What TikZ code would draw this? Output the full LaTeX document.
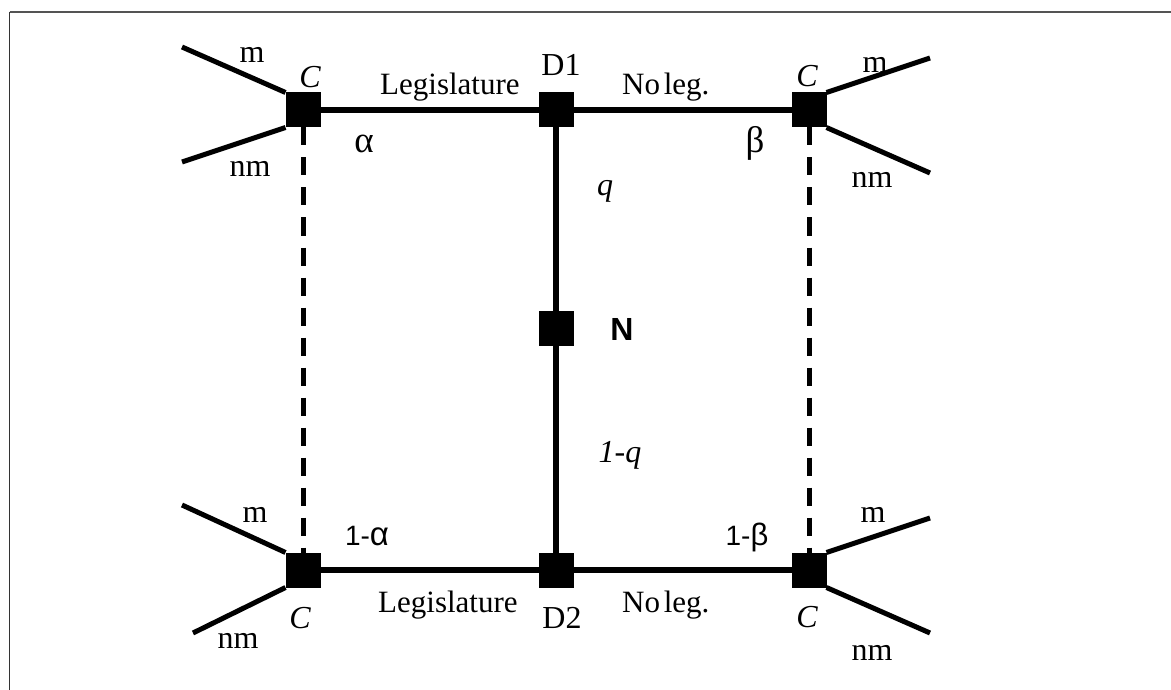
\documentclass[tikz,border=0pt]{standalone}
\usepackage{fontspec}
\setmainfont{Liberation Serif}
\setsansfont{Liberation Sans}
\begin{document}
\begin{tikzpicture}[x=1pt,y=-1pt,
  sq/.style={draw=none,fill=black,minimum size=35pt,inner sep=0pt,outer sep=0pt},
  edge/.style={line width=5.5pt},
  branch/.style={line width=5pt},
  dashedge/.style={line width=5pt,dash pattern=on 18pt off 12pt},
  lbl/.style={inner sep=0pt,anchor=base,font=\fontsize{32}{32}\selectfont},
  lblw/.style={lbl,anchor=base west,font=\fontsize{31}{31}\selectfont},
  greek/.style={lbl,font=\fontsize{37}{37}\selectfont},
  slbl/.style={inner sep=0pt,anchor=base,font=\sffamily\fontsize{28}{28}\selectfont},
  frameline/.style={draw=black!67}]
\useasboundingbox (0,0) rectangle (1171,690);
% frame
\draw[frameline,line width=2pt] (9.5,12) -- (1171,12);
\draw[frameline,line width=1.2pt,draw=black!80] (9.5,12) -- (9.5,690);
% nodes
\node[sq] (cTL) at (303,110) {};
\node[sq] (d1) at (556,110) {};
\node[sq] (cTR) at (809,110) {};
\node[sq] (n) at (556,328) {};
\node[sq] (cBL) at (303,570) {};
\node[sq] (d2) at (556,570) {};
\node[sq] (cBR) at (809,570) {};
% free ends
\coordinate (eTLm) at (182,47);
\coordinate (eTLn) at (182,162);
\coordinate (eTRm) at (930,58);
\coordinate (eTRn) at (930,173);
\coordinate (eBLm) at (182,505);
\coordinate (eBLn) at (193,633);
\coordinate (eBRm) at (930,518);
\coordinate (eBRn) at (930,633);
% connectors
\draw[edge] (cTL) -- (d1);
\draw[edge] (d1) -- (cTR);
\draw[edge] (cBL) -- (d2);
\draw[edge] (d2) -- (cBR);
\draw[edge] (d1) -- (n);
\draw[edge] (n) -- (d2);
\draw[dashedge] (cTL.south) -- (cBL.north);
\draw[dashedge] (cTR.south) -- (cBR.north);
\draw[branch] (cTL.north west) -- (eTLm);
\draw[branch] (cTL.south west) -- (eTLn);
\draw[branch] (cTR.north east) -- (eTRm);
\draw[branch] (cTR.south east) -- (eTRn);
\draw[branch] (cBL.north west) -- (eBLm);
\draw[branch] (cBL.south west) -- (eBLn);
\draw[branch] (cBR.north east) -- (eBRm);
\draw[branch] (cBR.south east) -- (eBRn);
% labels top
\node[lbl] (lmTL) at (252,63) {m};
\node[lbl] (lnmTL) at (250,177) {nm};
\node[lbl] (lcTL) at (310,88) {\itshape C};
\node[greek] (laTL) at (364,153) {α};
\node[lblw] (llegT) at (380,95) {Legislature};
\node[lbl] (ld1) at (561,76) {D1};
\node[lblw] (lnoT) at (622,95) {No\hspace{0.12em}leg.};
\node[lbl] (lcTR) at (807,87) {\itshape C};
\node[lbl] (lmTR) at (875,73) {m};
\node[lbl] (lnmTR) at (872,188) {nm};
\node[greek] (lbTR) at (755,153) {β};
% middle
\node[lbl] (lq) at (605,196) {\itshape q};
\node[inner sep=0pt,anchor=base,font=\sffamily\bfseries\fontsize{32}{32}\selectfont] (lN) at (622,340) {N};
\node[lbl] (l1q) at (620,462) {\itshape 1-q};
% labels bottom
\node[lbl] (lmBL) at (255,522) {m};
\node[slbl] (l1a) at (367,545) {1-{\fontsize{33}{33}\selectfont α}};
\node[lbl] (lcBL) at (300,628) {\itshape C};
\node[lbl] (lnmBL) at (238,648) {nm};
\node[lblw] (llegB) at (378,612) {Legislature};
\node[lbl] (ld2) at (562,628) {D2};
\node[lblw] (lnoB) at (622,612) {No\hspace{0.12em}leg.};
\node[slbl] (l1b) at (747,545) {1-{\fontsize{31}{31}\selectfont β}};
\node[lbl] (lcBR) at (807,627) {\itshape C};
\node[lbl] (lmBR) at (873,522) {m};
\node[lbl] (lnmBR) at (872,660) {nm};
\end{tikzpicture}
\end{document}
